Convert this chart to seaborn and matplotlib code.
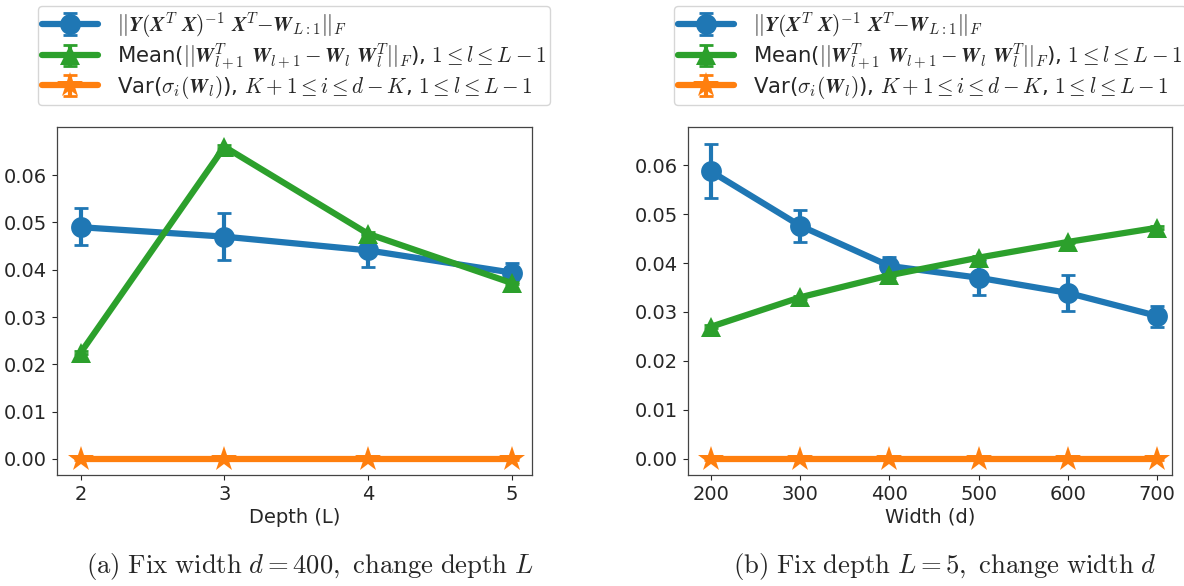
import matplotlib
matplotlib.use("Agg")
import matplotlib.pyplot as plt
import seaborn as sns
import pandas as pd
from matplotlib.legend_handler import HandlerTuple

sns.set_style("ticks")
plt.rcParams["font.family"] = ["DejaVu Sans"]
plt.rcParams["mathtext.fontset"] = "cm"

# ---- data: panel (a) depth ----
depth = [2, 3, 4, 5]
a_blue = [0.0490, 0.0470, 0.0441, 0.0394]
a_blue_lo = [0.0453, 0.0420, 0.0405, 0.0378]
a_blue_hi = [0.0530, 0.0519, 0.0475, 0.0414]
a_green = [0.0225, 0.0660, 0.0476, 0.0372]
a_orange = [0.0, 0.0, 0.0, 0.0]

# ---- data: panel (b) width ----
width = [200, 300, 400, 500, 600, 700]
b_blue = [0.0587, 0.0476, 0.0394, 0.0370, 0.0339, 0.0292]
b_blue_lo = [0.0533, 0.0443, 0.0378, 0.0335, 0.0303, 0.0270]
b_blue_hi = [0.0643, 0.0508, 0.0413, 0.0405, 0.0376, 0.0312]
b_green = [0.0270, 0.0330, 0.0375, 0.0411, 0.0443, 0.0472]
b_orange = [0.0, 0.0, 0.0, 0.0, 0.0, 0.0]

labels = [
    r"$||\boldsymbol{Y}(\boldsymbol{X}^T\ \boldsymbol{X})^{-1}\ \boldsymbol{X}^T{-}\boldsymbol{W}_{L:1}||_F$",
    r"Mean($||\boldsymbol{W}_{l+1}^T\ \boldsymbol{W}_{l+1}-\boldsymbol{W}_l\ \boldsymbol{W}_l^T||_F$), $1\leq l\leq L-1$",
    r"Var($\sigma_i(\boldsymbol{W}_l)$), $K+1\leq i\leq d-K$, $1\leq l\leq L-1$",
]
colors = ["#1f77b4", "#2ca02c", "#ff7f0e"]
markers = ["o", "^", "*"]
msizes = [15, 15, 19]

fig = plt.figure(figsize=(11.84, 5.86), dpi=100)
ax1 = fig.add_axes([0.048, 0.1894, 0.401, 0.594])
ax2 = fig.add_axes([0.581, 0.1894, 0.409, 0.594])


def panel(ax, x, blue, lo, hi, green, orange, xlabel, xlim, ylim):
    series = [blue, green, orange]
    handles = []
    for i, ys in enumerate(series):
        df = pd.DataFrame({"x": x, "y": ys})
        sns.lineplot(data=df, x="x", y="y", ax=ax, color=colors[i], marker=markers[i],
                     markersize=msizes[i], linewidth=4.5, markeredgewidth=0,
                     legend=False, zorder=3 + i)
        line = ax.get_lines()[-1]
        if i == 0:
            yerr = [[b - l for b, l in zip(blue, lo)], [h - b for b, h in zip(blue, hi)]]
        else:
            yerr = [0.0003] * len(x)
        cont = ax.errorbar(x, ys, yerr=yerr, fmt="none", ecolor=colors[i],
                           elinewidth=3, capsize=5, capthick=2, zorder=3 + i)
        handles.append((line, cont))
    ax.set_xticks(x)
    ax.set_xlim(*xlim)
    ax.set_ylim(*ylim)
    ax.set_yticks([0, 0.01, 0.02, 0.03, 0.04, 0.05, 0.06])
    ax.set_yticklabels(["0.00", "0.01", "0.02", "0.03", "0.04", "0.05", "0.06"])
    ax.tick_params(labelsize=14)
    ax.set_xlabel(xlabel, fontsize=14, labelpad=3)
    ax.set_ylabel("")
    for s in ax.spines.values():
        s.set_linewidth(0.9)
        s.set_color("#444444")
    leg = ax.legend(handles, labels, loc="lower center", bbox_to_anchor=(0.5, 1.033),
                    fontsize=15.3, handler_map={tuple: HandlerTuple(ndivide=1)},
                    handlelength=2.6, handletextpad=0.9, labelspacing=0.05,
                    borderpad=0.2, frameon=True)
    leg.get_frame().set_edgecolor("#cccccc")


panel(ax1, depth, a_blue, a_blue_lo, a_blue_hi, a_green, a_orange, "Depth (L)",
      (1.833, 5.139), (-0.0034, 0.0702))
panel(ax2, width, b_blue, b_blue_lo, b_blue_hi, b_green, b_orange, "Width (d)",
      (174, 717), (-0.0033, 0.0678))

fig.text(0.262, 0.022, r"$\mathrm{(a)\ Fix\ width\ }d=400\mathrm{,\ change\ depth\ }L$",
         ha="center", fontsize=19.2)
fig.text(0.798, 0.022, r"$\mathrm{(b)\ Fix\ depth\ }L=5\mathrm{,\ change\ width\ }d$",
         ha="center", fontsize=19.2)

fig.savefig("out.png", dpi=100)
